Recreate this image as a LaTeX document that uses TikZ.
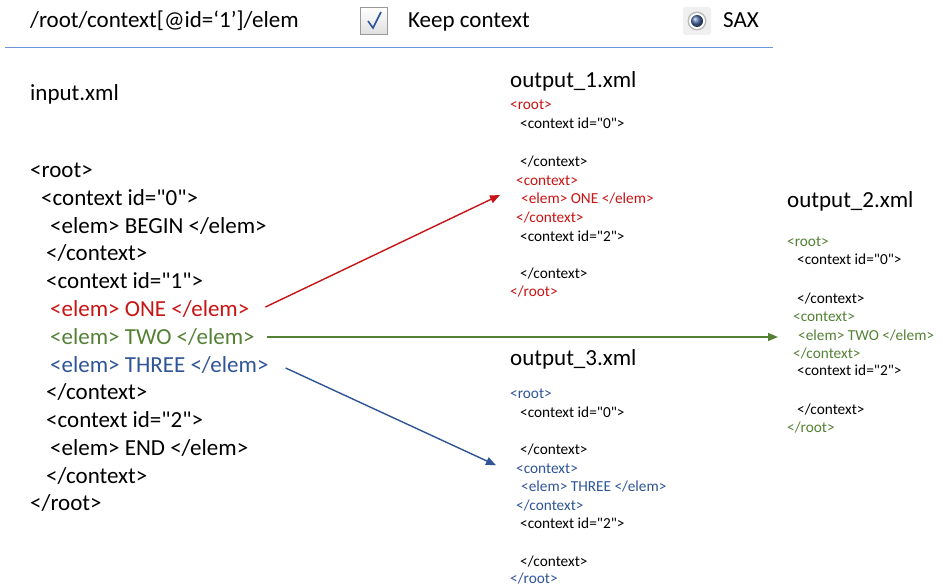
\documentclass[tikz,border=0pt]{standalone}
\usepackage{fontspec}
\setmainfont{Carlito}[Ligatures=TeXOff]
\usetikzlibrary{arrows.meta}
\definecolor{xred}{RGB}{200,20,20}
\definecolor{xgreen}{RGB}{84,130,53}
\definecolor{xblue}{RGB}{47,85,151}
\definecolor{sepline}{RGB}{110,150,215}
\tikzset{
  big/.style={anchor=base west,inner sep=0pt,font=\fontsize{23}{27}\selectfont},
  small/.style={anchor=base west,inner sep=0pt,font=\fontsize{15.3}{18}\selectfont},
  conn/.style={line width=1.4pt,-{Triangle[length=10pt,width=8pt]}}
}
\begin{document}
\begin{tikzpicture}[x=1pt,y=-1pt]
\useasboundingbox[fill=white] (0,0) rectangle (943,588);
% header
\node[big] (xpath) at (30,27.5) {/root/context[@id=‘1’]/elem};
\node[draw=gray!80,line width=0.8pt,top color=white,bottom color=gray!25,minimum size=27pt,inner sep=0pt] (cb) at (374,21) {};
\draw[xblue,line width=1.6pt] ([shift={(-6,0)}]cb.center) -- ([shift={(-1,7)}]cb.center) -- ([shift={(7,-9)}]cb.center);
\node[big] (keep) at (408,27.5) {Keep context};
\node[fill=gray!12,rounded corners=3pt,minimum size=28pt,inner sep=0pt] (rb) at (697,21) {};
\node[circle,fill=gray!55,minimum size=19pt,inner sep=0pt] (rbo) at (rb.center) {};
\node[circle,fill=white,minimum size=16pt,inner sep=0pt] (rbw) at (rb.center) {};
\node[circle,ball color=xblue!85,minimum size=12pt,inner sep=0pt] (rbi) at (rb.center) {};
\node[big] (sax) at (723,27.5) {SAX};
\coordinate (l1) at (5,48);
\coordinate (l2) at (773,48);
\draw[sepline,line width=1pt] (l1) -- (l2);
% input
\node[big] (inp) at (30,100.5) {input.xml};
\node[big] (a1) at (30,177.5) {<root>};
\node[big] (a2) at (41,205.5) {<context id="0">};
\node[big] (a3) at (50,233.5) {<elem> BEGIN </elem>};
\node[big] (a4) at (46,260.5) {</context>};
\node[big] (a5) at (46,288.5) {<context id="1">};
\node[big,text=xred] (one) at (50,316.5) {<elem> ONE </elem>};
\node[big,text=xgreen] (two) at (50,344.5) {<elem> TWO </elem>};
\node[big,text=xblue] (three) at (50,372.5) {<elem> THREE </elem>};
\node[big] (a9) at (46,399.5) {</context>};
\node[big] (a10) at (46,427.5) {<context id="2">};
\node[big] (a11) at (50,455.5) {<elem> END </elem>};
\node[big] (a12) at (46,483.5) {</context>};
\node[big] (a13) at (30,510.5) {</root>};
% output 1
\node[big] (o1t) at (510,87.5) {output\_1.xml};
\node[small,text=xred] (b1) at (510,110) {<root>};
\node[small] (b2) at (520,129) {<context id="0">};
\node[small] (b3) at (520,167) {</context>};
\node[small,text=xred] (b4) at (516,186) {<context>};
\node[small,text=xred] (b5) at (521,204) {<elem> ONE </elem>};
\node[small,text=xred] (b6) at (516,223) {</context>};
\node[small] (b7) at (520,242) {<context id="2">};
\node[small] (b8) at (520,279) {</context>};
\node[small,text=xred] (b9) at (510,297) {</root>};
% output 2
\node[big] (o2t) at (787,207.5) {output\_2.xml};
\node[small,text=xgreen] (c1) at (787,247) {<root>};
\node[small] (c2) at (797,265) {<context id="0">};
\node[small] (c3) at (797,303) {</context>};
\node[small,text=xgreen] (c4) at (793,322) {<context>};
\node[small,text=xgreen] (c5) at (798,340) {<elem> TWO </elem>};
\node[small,text=xgreen] (c6) at (793,358) {</context>};
\node[small] (c7) at (797,375) {<context id="2">};
\node[small] (c8) at (797,414) {</context>};
\node[small,text=xgreen] (c9) at (787,432) {</root>};
% output 3
\node[big] (o3t) at (510,365.5) {output\_3.xml};
\node[small,text=xblue] (d1) at (510,398) {<root>};
\node[small] (d2) at (520,417) {<context id="0">};
\node[small] (d3) at (520,454) {</context>};
\node[small,text=xblue] (d4) at (516,473) {<context>};
\node[small,text=xblue] (d5) at (521,491) {<elem> THREE </elem>};
\node[small,text=xblue] (d6) at (516,510) {</context>};
\node[small] (d7) at (520,528) {<context id="2">};
\node[small] (d8) at (520,566) {</context>};
\node[small,text=xblue] (d9) at (510,583) {</root>};
% connectors
\draw[conn,xred] ([shift={(16,-2)}]one.east) -- ([shift={(-21,-4)}]b5.west);
\draw[conn,xgreen] ([xshift=12]two.east) -- ([xshift=-20]two.east -| c5.west);
\draw[conn,xblue] ([shift={(17,3)}]three.east) -- ([shift={(-20,-3)}]d4.west);
\end{tikzpicture}
\end{document}
